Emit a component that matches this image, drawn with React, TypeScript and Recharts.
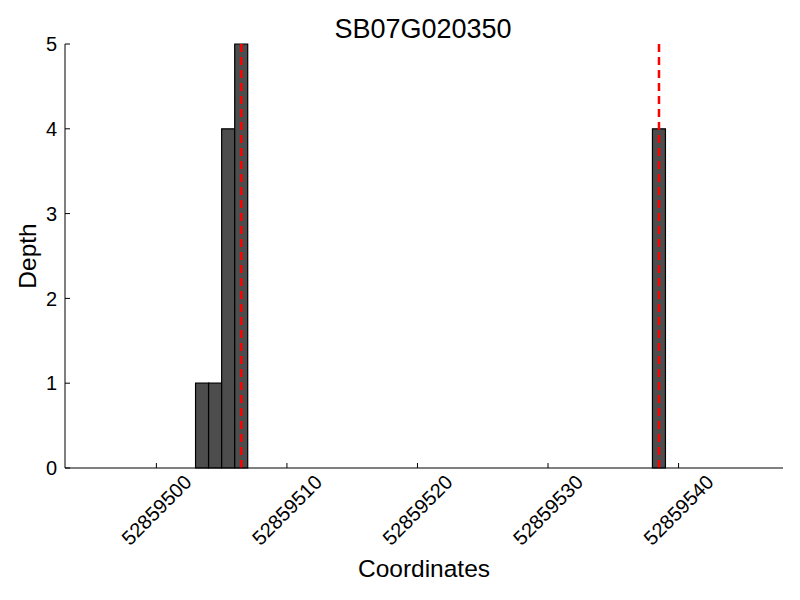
import React from "react";
import {
  Bar,
  ComposedChart,
  ReferenceLine,
  XAxis,
  YAxis,
} from "recharts";

const geneName = "SB07G020350";
const binCenters = [52859503.5, 52859504.5, 52859505.5, 52859506.5, 52859538.5];
const depths = [1, 1, 4, 5, 4];
const markerPositions = [52859506.5, 52859538.5];
const xTicks = [52859500, 52859510, 52859520, 52859530, 52859540];
const yTicks = [0, 1, 2, 3, 4, 5];
const xDomain = [52859493, 52859548];

const data = binCenters.map((pos, i) => ({ pos, depth: depths[i] }));

const FONT = "'Liberation Sans', Arial, Helvetica, sans-serif";

function RotatedTick(props: any) {
  const { x, y, payload } = props;
  return (
    <g transform={`translate(${x},${y}) rotate(-45)`}>
      <text
        textAnchor="middle"
        dominantBaseline="central"
        fontSize={20}
        fontFamily={FONT}
        fill="#000"
      >
        {payload.value}
      </text>
    </g>
  );
}

export default function App() {
  return (
    <div style={{ position: "absolute", left: 0, top: 0, background: "#fff" }}>
      <ComposedChart
        width={800}
        height={600}
        data={data}
        margin={{ top: 44, right: 17, left: 0, bottom: 0 }}
        barCategoryGap={0}
        barGap={0}
      >
        <XAxis
          dataKey="pos"
          type="number"
          domain={xDomain}
          ticks={xTicks}
          allowDataOverflow
          height={132}
          stroke="#000"
          tickSize={-5}
          tickMargin={47}
          tick={<RotatedTick />}
          label={{
            value: "Coordinates",
            position: "insideBottom",
            offset: 23,
            fontSize: 24.5,
            fontFamily: FONT,
            fill: "#000",
          }}
        />
        <YAxis
          type="number"
          domain={[0, 5]}
          ticks={yTicks}
          width={65}
          stroke="#000"
          tickSize={-5}
          tickMargin={13}
          tick={{ fontSize: 20, fontFamily: FONT, fill: "#000" }}
        />
        <Bar
          dataKey="depth"
          fill="#4d4d4d"
          stroke="#000"
          strokeWidth={1.2}
          isAnimationActive={false}
        />
        {markerPositions.map((m) => (
          <ReferenceLine
            key={m}
            x={m}
            stroke="#ff0000"
            strokeWidth={2.5}
            strokeDasharray="8 5"
          />
        ))}
        <text
          x={423}
          y={38}
          textAnchor="middle"
          fontSize={27}
          fontFamily={FONT}
          fill="#000"
        >
          {geneName}
        </text>
        <text
          transform="translate(27,256) rotate(-90)"
          textAnchor="middle"
          dominantBaseline="central"
          fontSize={24.5}
          fontFamily={FONT}
          fill="#000"
        >
          Depth
        </text>
      </ComposedChart>
    </div>
  );
}
